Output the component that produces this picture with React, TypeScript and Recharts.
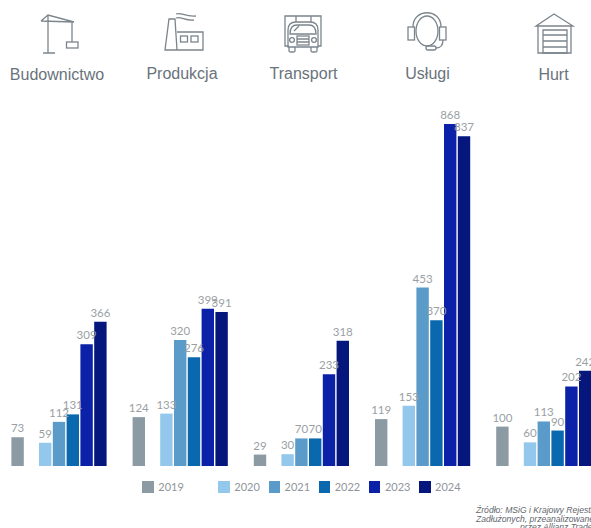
import { BarChart, Bar, XAxis, YAxis, LabelList } from "recharts";

const sectors = ["Budownictwo", "Produkcja", "Transport", "Usługi", "Hurt"];
const values2019 = [73, 124, 29, 119, 100];
const values2020 = [59, 133, 30, 153, 60];
const values2021 = [112, 320, 70, 453, 113];
const values2022 = [131, 276, 70, 370, 90];
const values2023 = [309, 399, 233, 868, 202];
const values2024 = [366, 391, 318, 837, 242];

const sourceLines = ["Źródło: MSiG i Krajowy Rejestr", "Zadłużonych, przeanalizowane", "przez Allianz Trade"];

const rows = sectors.map((sector, i) => ({
  sector,
  y2019: values2019[i],
  y2020: values2020[i],
  y2021: values2021[i],
  y2022: values2022[i],
  y2023: values2023[i],
  y2024: values2024[i],
}));

const years = [
  { key: "y2020", name: "2020", color: "#93c8ec" },
  { key: "y2021", name: "2021", color: "#5a9bc9" },
  { key: "y2022", name: "2022", color: "#0a69ae" },
  { key: "y2023", name: "2023", color: "#0b22a8" },
  { key: "y2024", name: "2024", color: "#05167c" },
];
const first = { key: "y2019", name: "2019", color: "#8c9aa4" };

const labelStyle = { fontFamily: "Lato", fontSize: 11.5, fill: "#9a9fa4" };
const ICON = "#7b858c";

function HeaderIcons() {
  const s = { fill: "none", stroke: ICON, strokeWidth: 1.3 };
  return (
    <g {...s}>
      {/* crane */}
      <path d="M48 15V53M43 53H55M41 21L74 22M41 21L48 15L74 22M72 22V42" />
      <rect x={66.5} y={42} width={11.5} height={6} />
      {/* factory */}
      <path d="M165 50L169 19H175L177 50ZM177 32H203V50H165" />
      <rect x={180.5} y={36} width={7} height={6} />
      <rect x={191} y={36} width={7} height={6} />
      <path d="M176 14C181 12 185 17 196 16M176 18C181 16 185 21 194 20" />
      {/* truck */}
      <path d="M289 46H285V16H321V46H318M296 16V22M311 16V22" />
      <path d="M288 47V30Q288 22 296 22H310Q318 22 318 30V47Z" />
      <path d="M290 34Q290 25 297 25H309Q316 25 316 34ZM294 31L299 26" />
      <rect x={297} y={36} width={12} height={9} />
      <path d="M297 39H309M297 42H309M289 47V51Q289 52 291 52H293Q295 52 295 51V47M311 47V51Q311 52 313 52H315Q317 52 317 51V47" />
      <circle cx={292} cy={40} r={2.4} />
      <circle cx={314} cy={40} r={2.4} />
      {/* headset */}
      <ellipse cx={427} cy={31} rx={11} ry={15} />
      <path d="M413 27C413 8 441 8 441 27" />
      <rect x={408} y={27} width={6.5} height={13} />
      <rect x={439.5} y={27} width={6.5} height={13} />
      <path d="M443 40C443 46 440 48 436 48" />
      <rect x={426} y={46} width={10} height={4} rx={2} />
      {/* warehouse */}
      <path d="M536 26L554 14L573 26ZM538 26V53H571V26" />
      <path d="M543 53V30H567V53ZM543 35H567M543 41H567M543 47H567" />
    </g>
  );
}

export default function App() {
  return (
    <div style={{ position: "absolute", left: 0, top: 0, width: 591, height: 528, overflow: "hidden", background: "#fff" }}>
      <svg width={591} height={528} style={{ position: "absolute", left: 0, top: 0 }}>
        <HeaderIcons />
        {sectors.map((sector, i) => (
          <text
            key={sector}
            x={[57, 182, 303.5, 427.5, 553.5][i]}
            y={[80, 79, 79, 79, 80][i]}
            textAnchor="middle"
            fontFamily="Liberation Sans"
            fontSize={16}
            fill="#69737b"
          >
            {sector}
          </text>
        ))}
        {sourceLines.map((line, i) => (
          <text
            key={line}
            x={[476, 476, 520][i]}
            y={[513, 521.5, 530][i]}
            fontFamily="Liberation Sans"
            fontStyle="italic"
            fontSize={8.6}
            fill="#5f666d"
          >
            {line}
          </text>
        ))}
      </svg>

      <div style={{ position: "absolute", left: -20, top: 0 }}>
        <BarChart
          width={630}
          height={528}
          data={rows}
          margin={{ top: 72, right: 5.6, bottom: 62, left: 18.4 }}
          barSize={12.4}
          barGap={1.4}
        >
          <XAxis dataKey="sector" hide />
          <YAxis hide domain={[0, 1000]} />
          <Bar dataKey={first.key} name={first.name} fill={first.color} isAnimationActive={false}>
            <LabelList dataKey={first.key} position="top" style={labelStyle} />
          </Bar>
          {/* empty slot between 2019 and the later years */}
          <Bar dataKey="spacer" fill="none" isAnimationActive={false} />
          {years.map((y) => (
            <Bar key={y.key} dataKey={y.key} name={y.name} fill={y.color} isAnimationActive={false}>
              <LabelList dataKey={y.key} position="top" style={labelStyle} />
            </Bar>
          ))}
        </BarChart>
      </div>

      {/* legend row */}
      {[first, ...years].map((y, i) => {
        const left = 142.3 + (i === 0 ? 0 : 76 + (i - 1) * 50.2);
        return (
          <div key={y.name} style={{ position: "absolute", left, top: 481, display: "flex", alignItems: "center", height: 11.5 }}>
            <div style={{ width: 11.5, height: 11.5, background: y.color, marginRight: 4.5 }} />
            <span style={{ fontFamily: "Lato", fontSize: 11, color: "#8f959a" }}>{y.name}</span>
          </div>
        );
      })}
    </div>
  );
}
